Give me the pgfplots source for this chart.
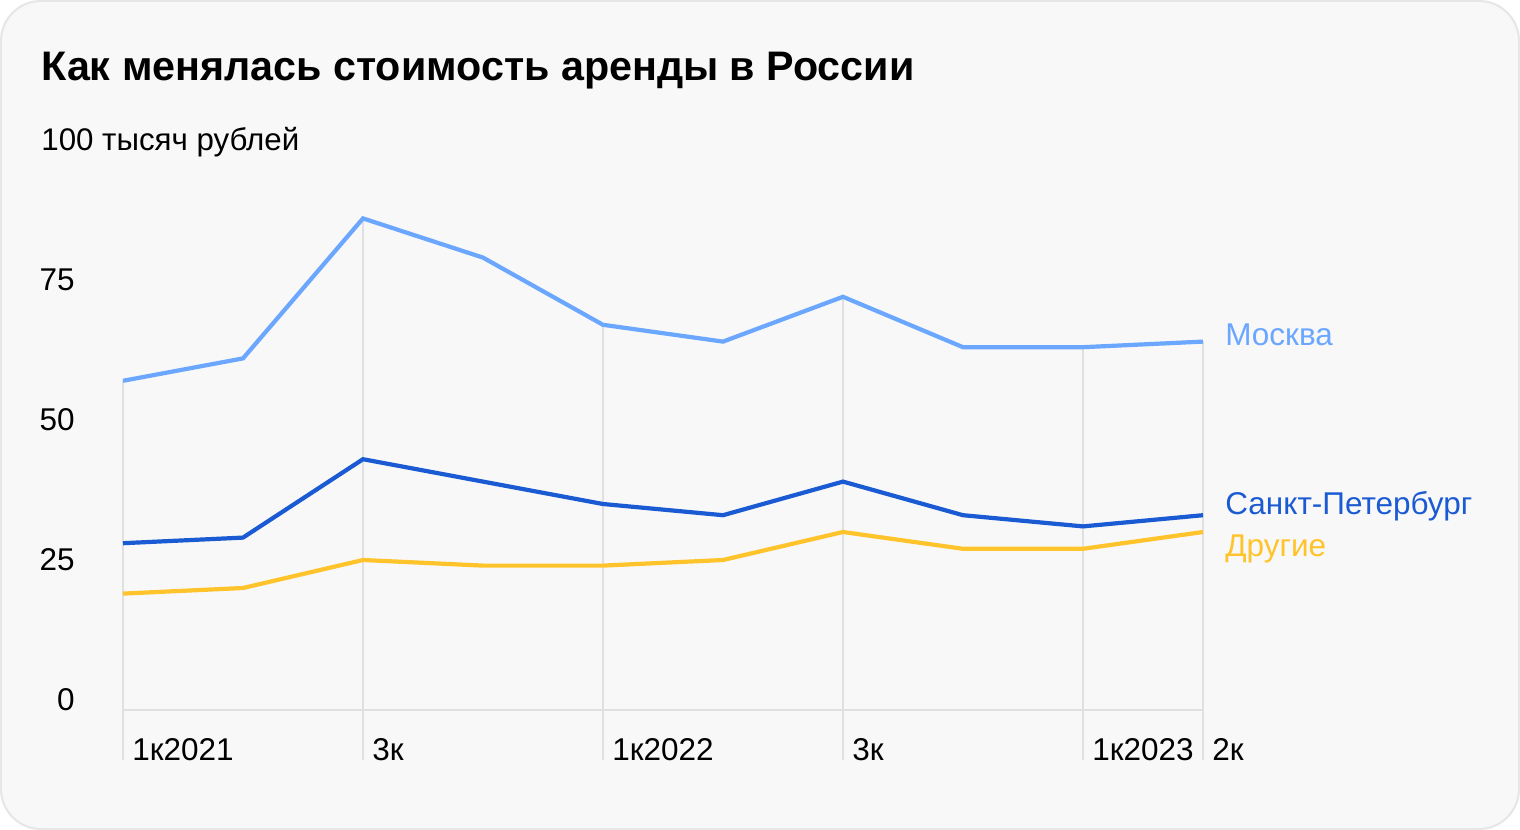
\documentclass[border=0pt]{standalone}
\usepackage{pgfplots}
\pgfplotsset{compat=1.18}
\usepackage{fontspec}
\setmainfont{Liberation Sans}
\definecolor{bg}{HTML}{F8F8F8}
\definecolor{frame}{HTML}{E6E6E6}
\definecolor{gridc}{HTML}{E0E0E0}
\definecolor{moscow}{HTML}{6BA6FF}
\definecolor{spb}{HTML}{1A5AD2}
\definecolor{other}{HTML}{FFC42B}
\begin{document}
\begin{tikzpicture}
\fill[white] (0bp,0bp) rectangle (760bp,-415bp);
\draw[fill=bg, draw=frame, line width=1bp, rounded corners=20bp] (0.5bp,-0.5bp) rectangle (759.5bp,-414.5bp);
\node[anchor=base west, inner sep=0pt, font=\bfseries\fontsize{20.7}{24}\selectfont] at (20.5bp,-40bp) {Как менялась стоимость аренды в России};
\node[anchor=base west, inner sep=0pt, font=\fontsize{15.7}{18}\selectfont] at (20.5bp,-75bp) {100 тысяч рублей};
\begin{axis}[
  anchor=origin, at={(61.5bp,-350bp)},
  x=60bp, y=2.8bp,
  xmin=0, xmax=9, ymin=-1.7857, ymax=90,
  clip=false,
  axis line style={draw=none},
  major tick length=0pt,
  ytick={0,25,50,75},
  xtick={0,2,4,6,8,9},
  xticklabels={1к2021,3к,1к2022,3к,1к2023,2к},
  /pgf/number format/assume math mode=true,
  tick label style={font=\fontsize{15.8}{18}\selectfont, text=black},
  yticklabel style={anchor=east, inner sep=0pt, xshift=-24bp},
  xticklabel style={anchor=base west, inner sep=0pt, xshift=4.5bp, yshift=-25bp},
]
% drop lines
\addplot[gridc, line width=1bp] coordinates {(0,-10.7) (0,57)};
\addplot[gridc, line width=1bp] coordinates {(2,-10.7) (2,86)};
\addplot[gridc, line width=1bp] coordinates {(4,-10.7) (4,67)};
\addplot[gridc, line width=1bp] coordinates {(6,-10.7) (6,72)};
\addplot[gridc, line width=1bp] coordinates {(8,-10.7) (8,63)};
\addplot[gridc, line width=1bp] coordinates {(9,-10.7) (9,64)};
% baseline
\addplot[gridc, line width=1bp] coordinates {(0,-1.7857) (9,-1.7857)};
% series
\addplot[moscow, line width=2.1bp] coordinates {(0,57) (1,61) (2,86) (3,79) (4,67) (5,64) (6,72) (7,63) (8,63) (9,64)};
\addplot[spb, line width=2.1bp] coordinates {(0,28) (1,29) (2,43) (3,39) (4,35) (5,33) (6,39) (7,33) (8,31) (9,33)};
\addplot[other, line width=2.1bp] coordinates {(0,19) (1,20) (2,25) (3,24) (4,24) (5,25) (6,30) (7,27) (8,27) (9,30)};
\node[anchor=west, inner sep=0pt, text=moscow, font=\fontsize{15.8}{18}\selectfont, xshift=11bp] at (axis cs:9,65.2) {Москва};
\node[anchor=west, inner sep=0pt, text=spb, font=\fontsize{15.8}{18}\selectfont, xshift=11bp] at (axis cs:9,34.6) {Санкт-Петербург};
\node[anchor=west, inner sep=0pt, text=other, font=\fontsize{15.8}{18}\selectfont, xshift=11bp] at (axis cs:9,27.0) {Другие};
\end{axis}
\end{tikzpicture}
\end{document}
